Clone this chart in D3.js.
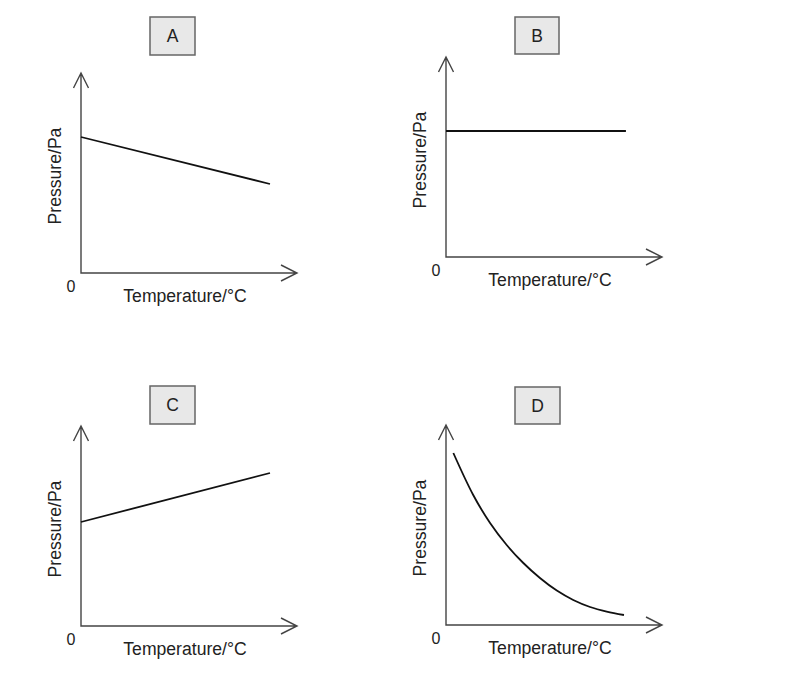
<!DOCTYPE html>
<html>
<head>
<meta charset="utf-8">
<script src="https://cdn.jsdelivr.net/npm/d3@7"></script>
<style>
  html, body { margin: 0; padding: 0; background: #fff; }
  svg { display: block; font-family: "Liberation Sans", Arial, sans-serif; }
</style>
</head>
<body>
<svg id="chart" width="799" height="690"></svg>
<script>
// ---- data (arbitrary units, 0..100 on each axis) ----
const panelNames = ["A", "B", "C", "D"];
const xLabel = "Temperature/°C";
const yLabel = "Pressure/Pa";
const originLabel = "0";

const temperatureA = [0, 87.5];
const pressureA = [68, 44.5];

const temperatureB = [0, 83.3];
const pressureB = [63, 63];

const temperatureC = [0, 87.5];
const pressureC = [52, 76.5];

const temperatureD = [3.4, 12.6, 20.4, 28.1, 35.8, 43.5, 51.3, 58.9, 66.7, 74.4, 82.4];
const pressureD = [86, 65, 51, 40, 31, 23.5, 17.2, 12.5, 9, 6.7, 5];

const seriesT = [temperatureA, temperatureB, temperatureC, temperatureD];
const seriesP = [pressureA, pressureB, pressureC, pressureD];

// ---- layout ----
const layout = [
  { ox: 81,  oy: 273, box: [150, 17, 45, 38] },
  { ox: 446, oy: 257, box: [515, 17, 44, 37] },
  { ox: 81,  oy: 626, box: [150, 386, 45, 38] },
  { ox: 446, oy: 625, box: [515, 387, 45, 37] }
];
const axisW = 216, axisH = 200;

const svg = d3.select("#chart");

panelNames.forEach((name, i) => {
  const L = layout[i];
  const x = d3.scaleLinear().domain([0, 100]).range([L.ox, L.ox + axisW]);
  const y = d3.scaleLinear().domain([0, 100]).range([L.oy, L.oy - axisH]);
  const g = svg.append("g");

  // title box
  g.append("rect")
    .attr("x", L.box[0]).attr("y", L.box[1])
    .attr("width", L.box[2]).attr("height", L.box[3])
    .attr("fill", "#e8e8e8").attr("stroke", "#666").attr("stroke-width", 1.5);
  g.append("text")
    .attr("x", L.box[0] + L.box[2] / 2).attr("y", L.box[1] + L.box[3] / 2)
    .attr("text-anchor", "middle").attr("dominant-baseline", "central")
    .attr("font-size", 17.5).attr("fill", "#222").text(name);

  // axes with open arrowheads
  const x0 = x(0), x1 = x(100), y0 = y(0), y1 = y(100);
  const axisPath = d3.path();
  axisPath.moveTo(x0, y1); axisPath.lineTo(x0, y0); axisPath.lineTo(x1, y0);
  axisPath.moveTo(x0 - 7.5, y1 + 15); axisPath.lineTo(x0, y1); axisPath.lineTo(x0 + 7.5, y1 + 15);
  axisPath.moveTo(x1 - 16, y0 - 8); axisPath.lineTo(x1, y0); axisPath.lineTo(x1 - 16, y0 + 8);
  g.append("path").attr("d", axisPath.toString())
    .attr("fill", "none").attr("stroke", "#444").attr("stroke-width", 1.4)
    .attr("stroke-linejoin", "miter");

  // data line
  const pts = seriesT[i].map((t, k) => [t, seriesP[i][k]]);
  const line = d3.line()
    .x(d => x(d[0])).y(d => y(d[1]))
    .curve(pts.length > 2 ? d3.curveCatmullRom : d3.curveLinear);
  g.append("path").datum(pts).attr("d", line)
    .attr("fill", "none").attr("stroke", "#111").attr("stroke-width", 1.8);

  // labels
  g.append("text")
    .attr("x", x0 - 10).attr("y", y0 + 13)
    .attr("text-anchor", "middle").attr("dominant-baseline", "central")
    .attr("font-size", 16).attr("fill", "#222").text(originLabel);
  g.append("text")
    .attr("x", x0 + 104).attr("y", y0 + 23)
    .attr("text-anchor", "middle").attr("dominant-baseline", "central")
    .attr("font-size", 17.6).attr("fill", "#222").text(xLabel);
  g.append("text")
    .attr("transform", `translate(${x0 - 26},${y0 - 97}) rotate(-90)`)
    .attr("text-anchor", "middle").attr("dominant-baseline", "central")
    .attr("font-size", 17.6).attr("fill", "#222").text(yLabel);
});
</script>
</body>
</html>
